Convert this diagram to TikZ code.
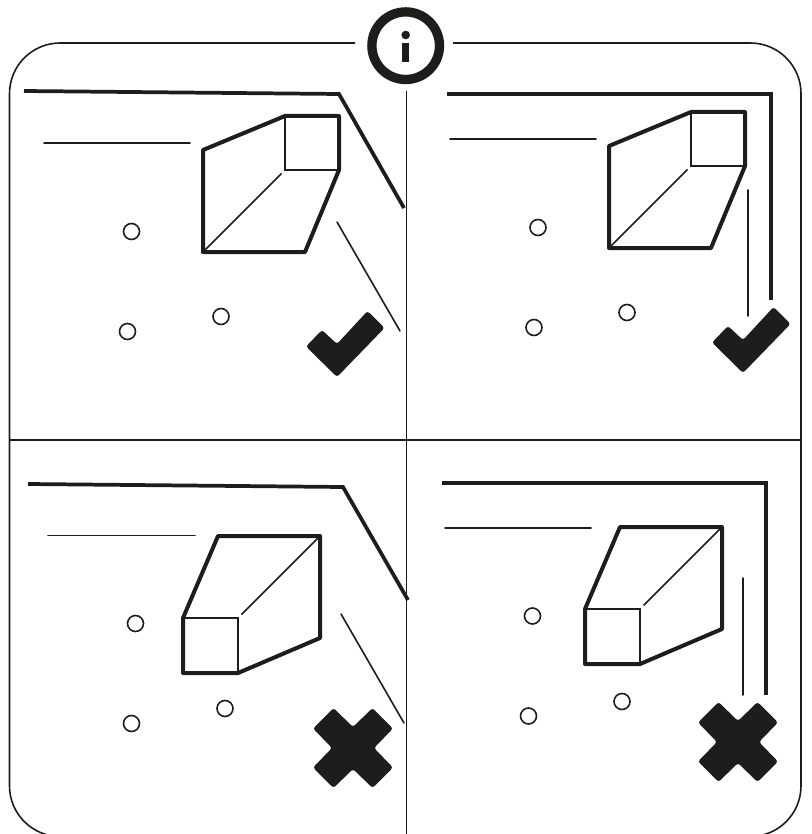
\documentclass[tikz,border=0pt]{standalone}
\definecolor{ink}{HTML}{1D1D1B}
\tikzset{
  thinline/.style={draw=ink,line width=1.2pt,line cap=round},
  frameline/.style={draw=ink,line width=1.2pt},
  thickline/.style={draw=ink,line width=2.8pt,line join=miter},
  boxline/.style={draw=ink,line width=3pt,line join=round},
  boxinner/.style={draw=ink,line width=1.25pt},
  dot/.style={draw=ink,line width=1.2pt,fill=white},
  solidmark/.style={fill=ink,rounded corners=2pt},
  ring/.style={draw=ink,line width=7pt},
}
\newcommand{\markcheck}[1]{\fill[solidmark,shift={#1}] (30.5,-33) -- (47.5,-16) -- (0,33) -- (-31,2.5) -- (-15,-14) -- (0,0) -- cycle;}
\newcommand{\markcross}[1]{\fill[solidmark,shift={#1}] (0,-21) -- (19.5,-40) -- (40,-19.5) -- (21,0) -- (40,19.5) -- (19.5,40) -- (0,21) -- (-19.5,40) -- (-40,19.5) -- (-21,0) -- (-40,-19.5) -- (-19.5,-40) -- cycle;}
\begin{document}
\begin{tikzpicture}[x=0.75pt,y=-0.75pt]
\useasboundingbox (0,0) rectangle (811,834);
\clip (0,0) rectangle (811,834);
% frame
\draw[frameline,rounded corners=38pt] (355,43) -- (9.5,43) -- (9.5,836.5) -- (801,836.5) -- (801,43) -- (453,43);
% dividers
\draw[frameline] (406.5,91) -- (406.5,834);
\draw[frameline] (10,440) -- (801,440);
% info
\draw[ring] (405.7,45.7) circle[radius=33.8];
\fill[ink] (405.7,35) circle[radius=4.3];
\fill[ink] (402,42.7) rectangle (409.4,62);
% panel 1
\draw[thickline] (24,91) -- (339,94) -- (404,208);
\draw[thinline] (44,143) -- (190,143);
\draw[boxinner] (285,116) -- (285,170) -- (339,170) (281.5,173.5) -- (203,252);
\draw[boxline] (203,150) -- (285,116) -- (339,116) -- (339,170) -- (305,252) -- (203,252) -- cycle;
\draw[dot] (131.5,231.5) circle[radius=8];
\draw[dot] (127.5,331.5) circle[radius=8];
\draw[dot] (221,316.5) circle[radius=8];
\draw[thinline] (337,222) -- (400,331);
\markcheck{(337,344)}
% panel 2
\draw[thickline] (447,94) -- (771,94) -- (771,300);
\draw[thinline] (450,139) -- (596,139);
\draw[boxinner] (691,112) -- (691,166) -- (745,166) (687.5,169.5) -- (609,248);
\draw[boxline] (609,146) -- (691,112) -- (745,112) -- (745,166) -- (711,248) -- (609,248) -- cycle;
\draw[dot] (538,227.5) circle[radius=8];
\draw[dot] (534,327.5) circle[radius=8];
\draw[dot] (627,312.5) circle[radius=8];
\draw[thinline] (748,190) -- (748,316);
\markcheck{(743,340)}
% panel 3
\draw[thickline] (28,484) -- (343,487) -- (408,600);
\draw[thinline] (48,535.5) -- (195,535.5);
\draw[boxinner] (183,618) -- (238,618) -- (238,673) (241.5,614.5) -- (320,536);
\draw[boxline] (218,536) -- (320,536) -- (320,638) -- (238,673) -- (183,673) -- (183,618) -- cycle;
\draw[dot] (135.5,623.5) circle[radius=8];
\draw[dot] (131.5,723.5) circle[radius=8];
\draw[dot] (225,708.5) circle[radius=8];
\draw[thinline] (341,614) -- (404,723);
\markcross{(353,748)}
% panel 4
\draw[thickline] (442,483) -- (766,483) -- (766,695);
\draw[thinline] (445,528) -- (591,528);
\draw[boxinner] (585,609) -- (640,609) -- (640,664) (643.5,605.5) -- (722,527);
\draw[boxline] (620,527) -- (722,527) -- (722,629) -- (640,664) -- (585,664) -- (585,609) -- cycle;
\draw[dot] (532.5,616) circle[radius=8];
\draw[dot] (528.5,716) circle[radius=8];
\draw[dot] (622,701.5) circle[radius=8];
\draw[thinline] (743,578) -- (743,695);
\markcross{(738,742)}
\end{tikzpicture}
\end{document}
